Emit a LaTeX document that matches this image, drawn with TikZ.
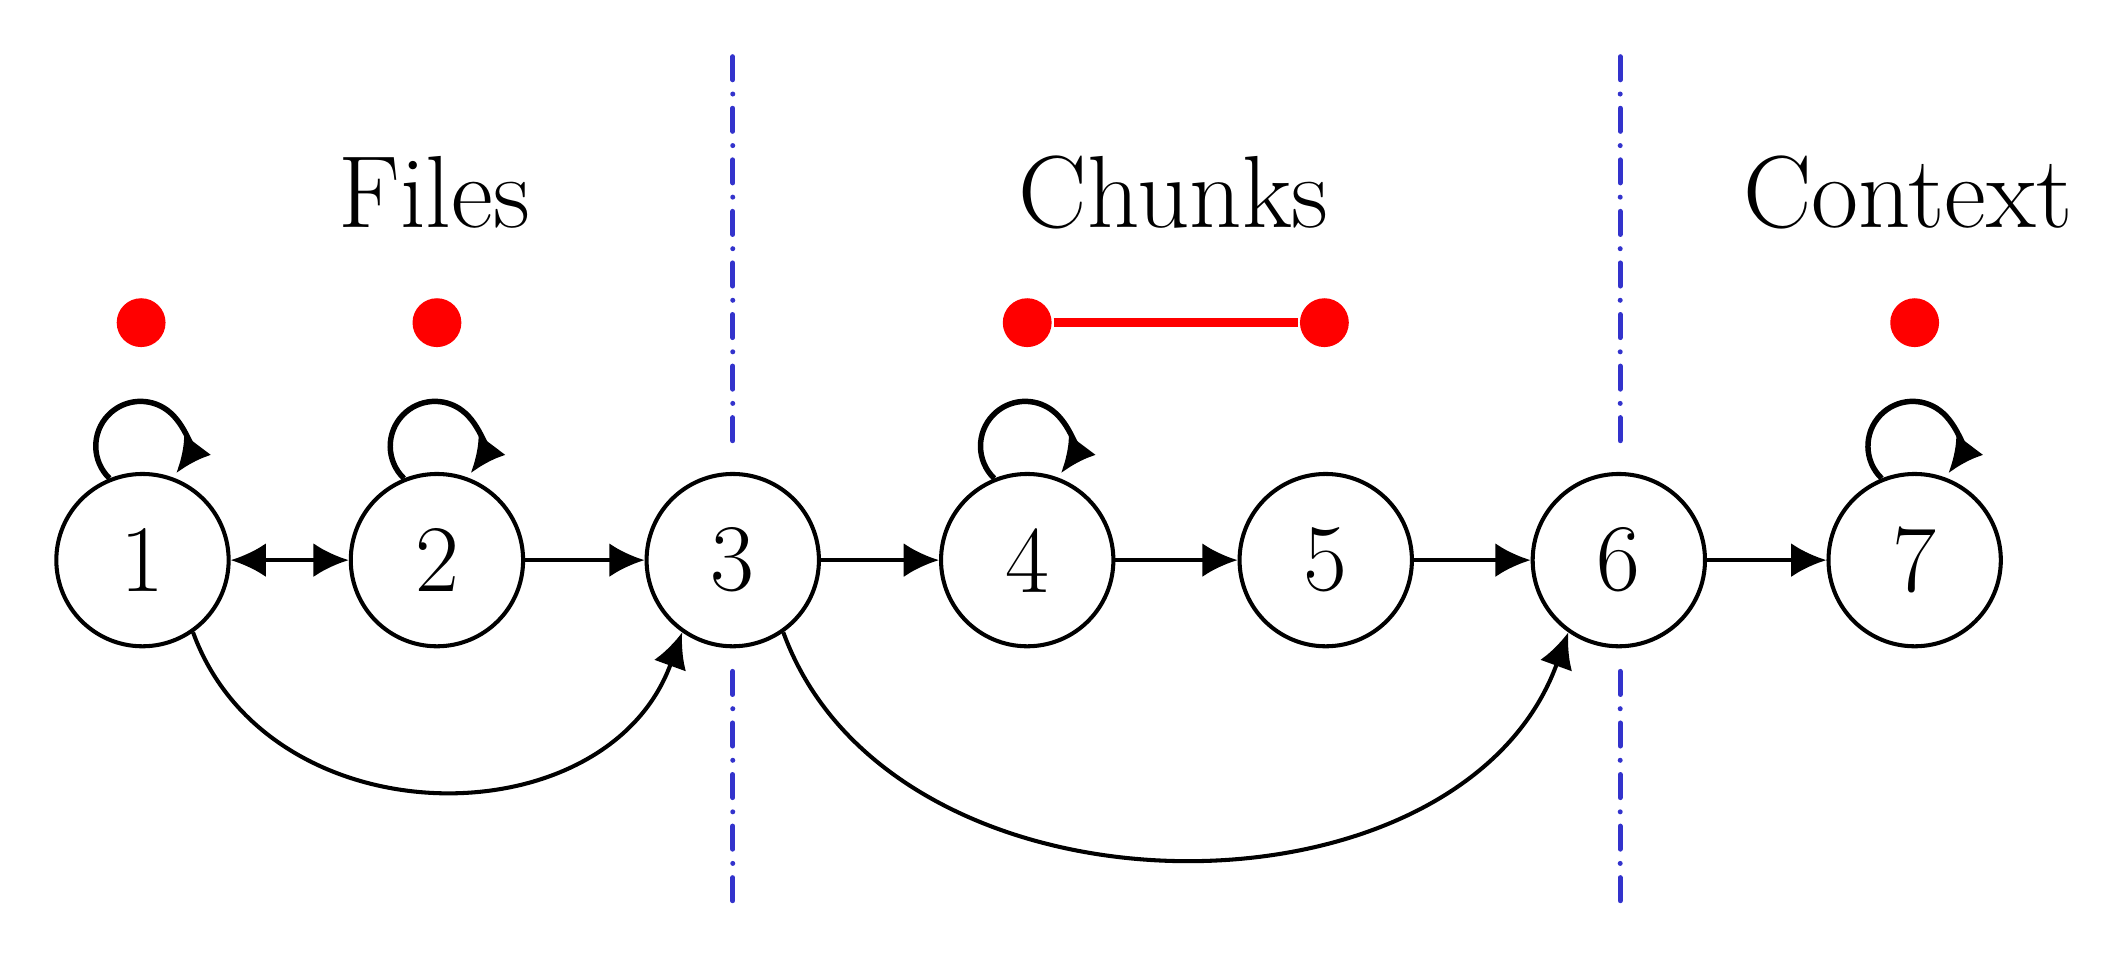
\documentclass[tikz,border=0pt]{standalone}
\usepackage{fontspec}
\usepackage{tikz}
\usetikzlibrary{arrows.meta, positioning}

\definecolor{sepblue}{RGB}{51,51,204}

\tikzset{
    state/.style={circle, draw, line width=0.85pt, minimum size=1.27cm, inner sep=0pt, font=\fontsize{20}{24}\selectfont},
    title/.style={anchor=base, font=\fontsize{21.5}{26}\selectfont},
    reddot/.style={circle, fill=red, inner sep=0pt, minimum size=0.36cm},
    sepline/.style={draw=sepblue, line width=1.05pt, line cap=round, dash pattern=on 0.17cm off 0.105cm on 0cm off 0.105cm},
    loopline/.style={line width=1.15pt}
}

\begin{document}
\begin{tikzpicture}[>={Latex[length=2.6mm, width=2.5mm]}, line width=0.85pt]
        \useasboundingbox (0, 0) rectangle (15.66, 7.038);

        % 状态结点
        \node[state] (n1) at (1.05, 2.91) {1};
        \node[state] (n2) at (3.22, 2.91) {2};
        \node[state] (n3) at (5.40, 2.91) {3};
        \node[state] (n4) at (7.57, 2.91) {4};
        \node[state] (n5) at (9.77, 2.91) {5};
        \node[state] (n6) at (11.93, 2.91) {6};
        \node[state] (n7) at (14.11, 2.91) {7};

        % 分隔线
        \draw[sepline] (5.40, 6.62) -- (5.40, 3.74);
        \draw[sepline] (5.40, 2.09) -- (5.40, 0.36);
        \draw[sepline] (11.94, 6.62) -- (11.94, 3.74);
        \draw[sepline] (11.94, 2.09) -- (11.94, 0.36);

        % 标题
        \node[title] (files) at (3.2, 5.36) {Files};
        \node[title] (chunks) at (8.65, 5.36) {Chunks};
        \node[title] (context) at (14.06, 5.36) {Context};

        % 红点
        \node[reddot] (d1) at (1.04, 4.66) {};
        \node[reddot] (d2) at (3.22, 4.66) {};
        \node[reddot] (d4) at (7.57, 4.66) {};
        \node[reddot] (d5) at (9.76, 4.66) {};
        \node[reddot] (d7) at (14.11, 4.66) {};
        \draw[red, line width=2pt] (d4) -- (d5);

        % 自环
        \draw[->, loopline] (n1.112) arc[start angle=226, end angle=53, radius=0.33] arc[start angle=53, end angle=-37, radius=0.33];
        \draw[->, loopline] (n2.112) arc[start angle=226, end angle=53, radius=0.33] arc[start angle=53, end angle=-37, radius=0.33];
        \draw[->, loopline] (n4.112) arc[start angle=226, end angle=53, radius=0.33] arc[start angle=53, end angle=-37, radius=0.33];
        \draw[->, loopline] (n7.112) arc[start angle=226, end angle=53, radius=0.33] arc[start angle=53, end angle=-37, radius=0.33];

        % 直线边
        \draw[<->] (n1) -- (n2);
        \draw[->] (n2) -- (n3);
        \draw[->] (n3) -- (n4);
        \draw[->] (n4) -- (n5);
        \draw[->] (n5) -- (n6);
        \draw[->] (n6) -- (n7);

        % 下方弧线
        \draw[->] (n1.-55) .. controls +(-70:1.64) and +(-110:1.64) .. (n3.-125);
        \draw[->] (n3.-55) .. controls +(-70:2.35) and +(-110:2.35) .. (n6.-125);
    \end{tikzpicture}
\end{document}
